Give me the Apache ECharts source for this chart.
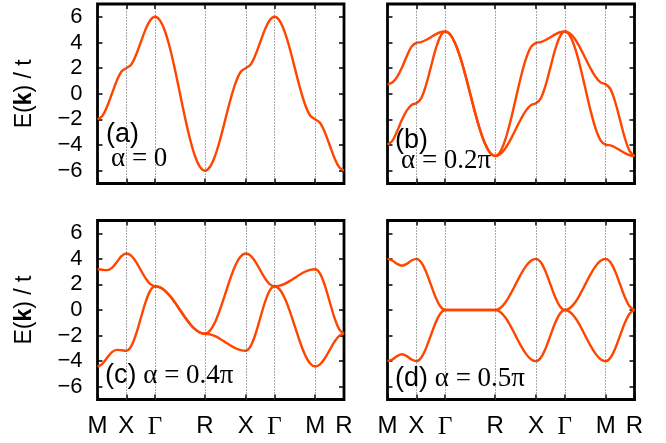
<!DOCTYPE html>
<html>
<head>
<meta charset="utf-8">
<script src="https://cdn.jsdelivr.net/npm/echarts@6/dist/echarts.min.js"></script>
<style>
html, body { margin: 0; padding: 0; background: #fff; }
#chart { width: 666px; height: 443px; }
</style>
</head>
<body>
<div id="chart"></div>
<script>
// high symmetry points along the k-path (path length in units of pi/a)
const symPos = [0, 1, 2, 3.7321, 5.1463, 6.1463, 7.5605, 8.5605];
const symLabels = ['M', 'X', 'Γ', 'R', 'X', 'Γ', 'M', 'R'];
const yTicks = [-6, -4, -2, 0, 2, 4, 6];

// sampled k-path positions
const kPath = [
  0, 0.1667, 0.3333, 0.5, 0.6667, 0.8333, 1,
  1.1667, 1.3333, 1.5, 1.6667, 1.8333, 2,
  2.1732, 2.3464, 2.5196, 2.6928, 2.8660, 3.0392, 3.2124, 3.3856, 3.5588, 3.7321,
  3.9088, 4.0856, 4.2624, 4.4392, 4.6160, 4.7927, 4.9695, 5.1463,
  5.3130, 5.4796, 5.6463, 5.8130, 5.9796, 6.1463,
  6.3231, 6.4999, 6.6766, 6.8534, 7.0302, 7.2070, 7.3837, 7.5605,
  7.7272, 7.8938, 8.0605, 8.2272, 8.3938, 8.5605
];

// (a) alpha = 0 (both bands coincide)
const bandA = [
  -2, -1.732, -1, 0, 1, 1.732, 2,
  2.268, 3, 4, 5, 5.732, 6,
  5.706, 4.854, 3.527, 1.854, 0, -1.854, -3.527, -4.854, -5.706, -6,
  -5.696, -4.828, -3.531, -2, -0.469, 0.828, 1.696, 2,
  2.268, 3, 4, 5, 5.732, 6,
  5.696, 4.828, 3.531, 2, 0.469, -0.828, -1.696, -2,
  -2.268, -3, -4, -5, -5.732, -6
];

// (b) alpha = 0.2 pi
const bandBUp = [
  0.733, 0.875, 1.310, 2.036, 2.928, 3.678, 3.969,
  4.029, 4.190, 4.412, 4.633, 4.795, 4.854,
  4.617, 3.927, 2.853, 1.500, 0, -1.500, -2.853, -3.927, -4.617, -4.854,
  -4.518, -3.562, -2.131, -0.442, 1.246, 2.677, 3.634, 3.969,
  4.029, 4.190, 4.412, 4.633, 4.795, 4.854,
  4.697, 4.251, 3.582, 2.794, 2.005, 1.337, 0.890, 0.733,
  0.359, -0.664, -2.061, -3.457, -4.480, -4.854
];
const bandBLo = [
  -3.969, -3.678, -2.928, -2.036, -1.310, -0.875, -0.733,
  -0.359, 0.664, 2.061, 3.457, 4.480, 4.854,
  4.617, 3.927, 2.853, 1.500, 0, -1.500, -2.853, -3.927, -4.617, -4.854,
  -4.697, -4.251, -3.582, -2.794, -2.005, -1.337, -0.890, -0.733,
  -0.359, 0.664, 2.061, 3.457, 4.480, 4.854,
  4.518, 3.562, 2.131, 0.442, -1.246, -2.677, -3.634, -3.969,
  -4.029, -4.190, -4.412, -4.633, -4.795, -4.854
];

// (c) alpha = 0.4 pi
const bandCUp = [
  3.186, 3.148, 3.120, 3.295, 3.738, 4.219, 4.422,
  4.250, 3.780, 3.138, 2.496, 2.026, 1.854,
  1.763, 1.500, 1.090, 0.573, 0, -0.573, -1.090, -1.500, -1.763, -1.854,
  -1.615, -0.935, 0.083, 1.284, 2.485, 3.503, 4.184, 4.422,
  4.250, 3.780, 3.138, 2.496, 2.026, 1.854,
  1.905, 2.049, 2.265, 2.520, 2.775, 2.991, 3.136, 3.186,
  2.848, 1.926, 0.666, -0.594, -1.516, -1.854
];
const bandCLo = [
  -4.422, -4.219, -3.738, -3.295, -3.120, -3.148, -3.186,
  -2.848, -1.926, -0.666, 0.594, 1.516, 1.854,
  1.763, 1.500, 1.090, 0.573, 0, -0.573, -1.090, -1.500, -1.763, -1.854,
  -1.905, -2.049, -2.265, -2.520, -2.775, -2.991, -3.136, -3.186,
  -2.848, -1.926, -0.666, 0.594, 1.516, 1.854,
  1.615, 0.935, -0.083, -1.284, -2.485, -3.503, -4.184, -4.422,
  -4.250, -3.780, -3.138, -2.496, -2.026, -1.854
];

// (d) alpha = 0.5 pi
const bandDUp = [
  4, 3.873, 3.606, 3.464, 3.606, 3.873, 4,
  3.732, 3, 2, 1, 0.268, 0,
  0, 0, 0, 0, 0, 0, 0, 0, 0, 0,
  0.152, 0.586, 1.235, 2, 2.765, 3.414, 3.848, 4,
  3.732, 3, 2, 1, 0.268, 0,
  0.152, 0.586, 1.235, 2, 2.765, 3.414, 3.848, 4,
  3.732, 3, 2, 1, 0.268, 0
];
const bandDLo = [
  -4, -3.873, -3.606, -3.464, -3.606, -3.873, -4,
  -3.732, -3, -2, -1, -0.268, 0,
  0, 0, 0, 0, 0, 0, 0, 0, 0, 0,
  -0.152, -0.586, -1.235, -2, -2.765, -3.414, -3.848, -4,
  -3.732, -3, -2, -1, -0.268, 0,
  -0.152, -0.586, -1.235, -2, -2.765, -3.414, -3.848, -4,
  -3.732, -3, -2, -1, -0.268, 0
];

const LINE = '#ff4500';
const SANS = 'Liberation Sans';
const SERIF = 'Liberation Serif';

const panels = [
  { grid: { left: 97.5, top: 4, width: 246.5, height: 179.5 }, bands: [bandA], xLab: false, yLab: true },
  { grid: { left: 387.5, top: 4, width: 247, height: 179.5 }, bands: [bandBUp, bandBLo], xLab: false, yLab: false },
  { grid: { left: 97.5, top: 220.5, width: 246.5, height: 179 }, bands: [bandCUp, bandCLo], xLab: true, yLab: true },
  { grid: { left: 387.5, top: 220.5, width: 247, height: 179 }, bands: [bandDUp, bandDLo], xLab: true, yLab: false }
];

const xFmt = (v) => {
  let best = 0;
  symPos.forEach((p, i) => { if (Math.abs(p - v) < Math.abs(symPos[best] - v)) best = i; });
  const lab = symLabels[best];
  return lab === 'Γ' ? '{g|Γ}' : lab;
};
const yFmt = (v) => (v < 0 ? '\u2212' + (-v) : '' + v);

const grids = [], xAxes = [], yAxes = [], series = [];
const tick = { show: true, inside: true, length: 5, lineStyle: { color: '#000', width: 1.5 } };
const noLine = { show: false, onZero: false };

panels.forEach((p, i) => {
  grids.push(Object.assign({ show: true, borderColor: '#000', borderWidth: 2.8, backgroundColor: 'transparent' }, p.grid));
  // bottom + top x axes
  xAxes.push({
    gridIndex: i, type: 'value', min: 0, max: 8.5605, position: 'bottom',
    axisLine: noLine, splitLine: { show: false },
    axisTick: Object.assign({ customValues: symPos }, tick),
    axisLabel: {
      show: p.xLab, customValues: symPos, formatter: xFmt, margin: 15,
      color: '#000', fontSize: 24, fontFamily: SANS,
      rich: { g: { fontFamily: SERIF, fontSize: 25, color: '#000' } }
    }
  });
  xAxes.push({
    gridIndex: i, type: 'value', min: 0, max: 8.5605, position: 'top',
    axisLine: noLine, splitLine: { show: false },
    axisTick: Object.assign({ customValues: symPos }, tick),
    axisLabel: { show: false }
  });
  // left + right y axes
  yAxes.push({
    gridIndex: i, type: 'value', min: -7, max: 7, position: 'left',
    axisLine: noLine, splitLine: { show: false },
    axisTick: Object.assign({ customValues: yTicks }, tick),
    axisLabel: {
      show: p.yLab, customValues: yTicks, formatter: yFmt, margin: 15,
      color: '#000', fontSize: 22, fontFamily: SANS
    },
    name: p.yLab ? 'E({b|k}) / t' : '',
    nameLocation: 'middle', nameGap: 61,
    nameTextStyle: {
      color: '#000', fontSize: 23, fontFamily: SANS,
      rich: { b: { fontWeight: 'bold', fontSize: 23, fontFamily: SANS, color: '#000' } }
    }
  });
  yAxes.push({
    gridIndex: i, type: 'value', min: -7, max: 7, position: 'right',
    axisLine: noLine, splitLine: { show: false },
    axisTick: Object.assign({ customValues: yTicks }, tick),
    axisLabel: { show: false }
  });

  // dotted verticals at the high symmetry points
  series.push({
    type: 'line', xAxisIndex: 2 * i, yAxisIndex: 2 * i, data: [], z: 1,
    silent: true, animation: false,
    markLine: {
      silent: true, symbol: ['none', 'none'], animation: false,
      label: { show: false },
      lineStyle: { color: '#555', type: [1, 2], width: 1 },
      data: symPos.slice(1, -1).map(x => ({ xAxis: x }))
    }
  });

  p.bands.forEach(b => {
    series.push({
      type: 'line', xAxisIndex: 2 * i, yAxisIndex: 2 * i, z: 3,
      data: kPath.map((x, j) => [x, b[j]]),
      showSymbol: false, symbol: 'none', smooth: 0.35, silent: true,
      lineStyle: { color: LINE, width: 2.4 },
      animation: false
    });
  });
});

const sansRich = { fontFamily: SANS, fontSize: 27, fill: '#000' };
const serifRich = { fontFamily: SERIF, fontSize: 27, fill: '#000' };
const note = (x, y, text) => ({
  type: 'text', x: x, y: y, z: 10,
  style: {
    text: text, verticalAlign: 'middle', fill: '#000',
    fontSize: 27, fontFamily: SERIF,
    rich: { p: sansRich, s: serifRich }
  }
});

const chart = echarts.init(document.getElementById('chart'), null, { renderer: 'canvas' });
chart.setOption({
  backgroundColor: '#fff',
  animation: false,
  grid: grids,
  xAxis: xAxes,
  yAxis: yAxes,
  series: series,
  graphic: [
    note(106, 135, '{p|(a)}'),
    note(111, 159, '{s|α = 0}'),
    note(395, 141, '{p|(b)}'),
    note(401, 161, '{s|α = 0.2π}'),
    note(105, 376, '{p|(c)} {s|α = 0.4π}'),
    note(395, 379, '{p|(d)} {s|α = 0.5π}')
  ]
});
</script>
</body>
</html>
